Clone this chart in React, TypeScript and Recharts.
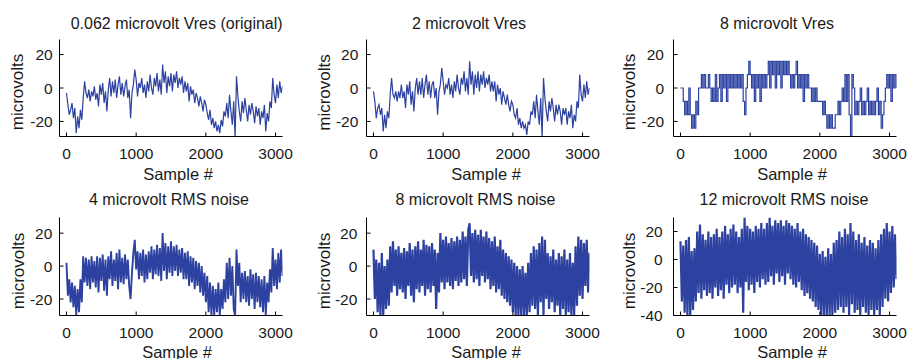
import React from 'react';
import { LineChart, Line, XAxis, YAxis } from 'recharts';

// sample index of every plotted point (every 20th sample)
const sampleIndex: number[] = Array.from({ length: 156 }, (_, i) => i * 20);
const xTicks = [0, 1000, 2000, 3000];
const yTicksStd = [-20, 0, 20];
const yTicksWide = [-40, -20, 0, 20];

const titles = [
  '0.062 microvolt Vres (original)',
  '2 microvolt Vres',
  '8 microvolt Vres',
  '4 microvolt RMS noise',
  '8 microvolt RMS noise',
  '12 microvolt RMS noise',
];

const vOriginal = [
  -3, -10, -16, -13, -9, -18, -12, -27, -17, -24,
  -13, -19, -6, 4, -3, -6, -1, -8, -2, -5,
  1, -7, -3, -11, 2, -4, 3, -9, -2, -14,
  -1, 6, -5, 4, -3, 5, -6, 2, 7, -4,
  3, -5, 1, 5, -6, -1, -18, -3, 2, 11,
  5, -5, 3, 0, 6, -3, 2, -6, 4, -2,
  8, 0, -4, 6, 1, 9, -2, 5, -4, 14,
  3, 10, -3, 7, 1, 9, -2, 8, 3, 10,
  0, 6, 2, 7, -3, 4, -2, 3, -8, 1,
  -4, -1, -9, -3, -6, -11, -5, -9, -14, -7,
  -10, -15, -19, -13, -22, -18, -24, -20, -26, -22,
  -27, -19, -23, -14, -17, -9, -18, -4, -14, -22,
  -8, -30, 7, -5, -14, -20, -8, -15, -6, -13,
  -20, -10, -16, -9, -14, -21, -11, -17, -12, -22,
  -14, -18, -10, -26, -15, -20, -8, -12, 6, -4,
  -9, 2, -6, 4, -3, 1,
];

const v2uV = [
  -2, -8, -18, -12, -10, -16, -12, -26, -16, -24,
  -14, -18, -4, 6, -4, -6, -2, -8, -2, -6,
  2, -6, -2, -12, 2, -4, 4, -10, -2, -14,
  0, 6, -4, 4, -4, 6, -6, 2, 8, -4,
  4, -6, 2, 4, -6, 0, -16, -2, 2, 12,
  4, -4, 2, 0, 6, -4, 2, -6, 4, -2,
  8, 0, -4, 6, 2, 10, -2, 6, -4, 16,
  2, 10, -4, 8, 0, 10, -2, 8, 2, 10,
  0, 6, 2, 8, -2, 4, -2, 4, -8, 2,
  -4, 0, -10, -2, -6, -10, -4, -10, -14, -8,
  -10, -16, -18, -12, -22, -18, -24, -20, -24, -22,
  -28, -20, -22, -14, -16, -8, -18, -4, -14, -22,
  -6, -30, 6, -6, -14, -20, -8, -14, -6, -12,
  -20, -10, -16, -10, -14, -22, -12, -16, -12, -22,
  -14, -18, -10, -24, -16, -20, -8, -12, 8, -4,
  -8, 2, -6, 4, -4, 0,
];

const v8uV = [
  0, 0, -8, -16, -8, -16, 0, -16, -24, -16,
  -24, -8, -16, 0, 0, 8, 0, 8, 0, 0,
  8, 0, -8, 0, -8, 8, -8, 0, 8, -8,
  8, 0, 8, -8, 8, 0, 8, 0, 8, 0,
  8, 0, 8, 0, 8, -8, -16, 0, 8, 16,
  8, 0, 8, -8, 8, 0, 8, -8, 8, 0,
  8, 0, 8, 16, 0, 16, 8, 16, 0, 16,
  8, 16, 0, 16, 8, 16, 8, 16, 8, 0,
  8, 0, 8, 16, 0, 8, 0, 8, -8, 8,
  0, 8, 0, 0, -8, 0, -8, 0, -8, -8,
  -8, -8, -16, -8, -16, -24, -16, -24, -16, -24,
  -24, -16, -16, -8, -16, -8, 0, -8, 8, -8,
  8, -16, -32, 8, 0, -16, -8, -16, -8, 0,
  -16, -8, -16, -8, 0, -16, -8, -16, -8, -16,
  -8, 0, -16, -8, -24, -16, -8, 0, 8, 0,
  8, -8, 8, 0, 8, 0,
];

const vNoise4 = [
  2, -18, -8, -22, -10, -25, -12, -30, -14, -28,
  -8, -22, 6, -10, 5, -12, 4, -14, 6, -10,
  3, -13, 6, -16, 5, -9, 7, -15, 4, -18,
  6, -8, 9, -12, 4, -9, 8, -14, 10, -10,
  5, -11, 7, -8, 4, -12, -20, -4, 8, 16,
  -2, 9, -8, 8, -6, 10, -10, 7, -8, 9,
  -4, 12, -8, 10, -5, 13, -6, 11, -9, 20,
  -3, 14, -8, 12, -4, 15, -6, 12, -3, 13,
  -6, 10, -4, 11, -8, 8, -8, 9, -12, 6,
  -10, 5, -14, 3, -12, 2, -16, 0, -18, -4,
  -22, -6, -28, -10, -30, -12, -30, -14, -28, -10,
  -30, -14, -26, -8, -22, 2, -20, 5, -18, 0,
  -26, -30, 10, -12, 2, -22, -4, -20, -3, -22,
  -6, -24, -2, -20, -5, -26, -4, -22, -6, -25,
  -8, -28, -6, -30, -10, -22, -2, -16, 11, -12,
  4, -14, 8, -10, 10, -6,
];

const vNoise8 = [
  10, -20, 4, -28, 2, -30, 8, -30, 0, -26,
  4, -24, 12, -16, 15, -12, 10, -18, 12, -14,
  8, -16, 11, -20, 9, -12, 14, -18, 10, -22,
  12, -14, 15, -16, 10, -12, 16, -18, 13, -14,
  12, -16, 14, -12, 10, -26, 8, -16, 20, -10,
  16, -14, 18, -10, 14, -12, 17, -14, 15, -9,
  18, -12, 16, -10, 21, -8, 18, -12, 22, 26,
  -6, 20, -10, 22, -8, 19, -12, 22, -6, 18,
  -10, 21, -8, 17, -14, 15, -12, 18, -16, 12,
  -14, 16, -18, 10, -20, 8, -22, 6, -24, 4,
  -28, 2, -30, 0, -30, -2, -30, 0, -30, -4,
  -30, 2, -28, 8, -24, 12, -26, 10, -30, 14,
  -22, 18, -30, 16, -20, 8, -26, 6, -22, 10,
  -28, 4, -24, 8, -30, 6, -26, 10, -30, 4,
  -28, 8, -30, 2, -30, 12, -24, 18, -18, 16,
  -20, 14, -12, 16, -16, 8,
];

const vNoise12 = [
  13, -30, 10, -38, 14, -40, 16, -40, 6, -36,
  8, -30, 20, -24, 25, -28, 18, -22, 14, -26,
  20, -24, 16, -28, 18, -20, 22, -26, 16, -22,
  20, -28, 24, -18, 18, -24, 22, -20, 25, -18,
  20, -24, 16, -20, 22, -38, 30, -16, 24, -22,
  22, -18, 20, -24, 24, -16, 22, -20, 26, -14,
  22, -18, 26, -16, 30, -12, 24, -18, 28, -10,
  26, -16, 28, -12, 24, -18, 28, -10, 26, -14,
  24, -18, 22, -20, 26, -16, 20, -22, 22, -26,
  18, -24, 16, -28, 14, -30, 12, -34, 10, -36,
  4, -40, 6, -40, 2, -40, 8, -40, 4, -40,
  12, -38, 14, -36, 20, -34, 16, -38, 22, -34,
  18, -40, 26, -32, 20, -38, 14, -36, 18, -40,
  12, -34, 16, -38, 10, -40, 14, -36, 12, -40,
  8, -36, 14, -40, 18, -34, 22, -28, 26, -30,
  20, -24, 24, -20, 18, -14,
];

const FONT = '"Liberation Sans", Arial, Helvetica, sans-serif';
const BLUE = '#2c41a0';
const TEXT = '#1a1a1a';
const PLOT_W = 223;

type PanelProps = {
  left: number;
  top: number;
  h: number;
  values: number[];
  yDomain: [number, number];
  yTicks: number[];
  yTickMargin: number;
  step?: boolean;
  sw?: number;
};

function Panel({ left, top, h, values, yDomain, yTicks, yTickMargin, step, sw = 1 }: PanelProps) {
  const data = sampleIndex.map((s, i) => ({ s, v: values[i] }));
  const tickStyle = { fill: TEXT, fontSize: 15.5, fontFamily: FONT };
  return (
    <div style={{ position: 'absolute', left, top }}>
      <LineChart
        width={PLOT_W + 45.5 + 10}
        height={h + 30.5 + 45}
        data={data}
        margin={{ top: 30.5, right: 10, bottom: 0, left: 0 }}
      >
        <XAxis
          xAxisId="b"
          dataKey="s"
          type="number"
          domain={[-100, 3100]}
          ticks={xTicks}
          interval={0}
          allowDataOverflow
          orientation="bottom"
          height={45}
          tickSize={-4}
          tickMargin={15}
          stroke="#000"
          tick={tickStyle}
        />
        <XAxis
          xAxisId="t"
          dataKey="s"
          type="number"
          domain={[-100, 3100]}
          ticks={xTicks}
          interval={0}
          allowDataOverflow
          orientation="top"
          height={0}
          tickSize={-4}
          tickFormatter={() => ''}
          stroke="#000"
        />
        <YAxis
          yAxisId="l"
          type="number"
          domain={yDomain}
          ticks={yTicks}
          interval={0}
          allowDataOverflow
          width={45.5}
          tickSize={-4}
          tickMargin={yTickMargin}
          stroke="#000"
          tick={tickStyle}
        />
        <YAxis
          yAxisId="r"
          orientation="right"
          type="number"
          domain={yDomain}
          ticks={yTicks}
          interval={0}
          allowDataOverflow
          width={0}
          tickSize={-4}
          tickFormatter={() => ''}
          stroke="#000"
        />
        <Line
          xAxisId="b"
          yAxisId="l"
          dataKey="v"
          type={step ? 'stepAfter' : 'linear'}
          stroke={BLUE}
          strokeWidth={sw}
          strokeLinejoin="miter"
          dot={false}
          isAnimationActive={false}
        />
      </LineChart>
    </div>
  );
}

const titlePos = [
  { x: 176.7, y: 29 },
  { x: 469, y: 29 },
  { x: 777, y: 29 },
  { x: 169, y: 204.5 },
  { x: 475.5, y: 204.5 },
  { x: 784, y: 204.5 },
];
const xLabelPos = [
  { x: 178, y: 180 },
  { x: 486, y: 180 },
  { x: 792, y: 180 },
  { x: 177, y: 357.5 },
  { x: 486, y: 357.5 },
  { x: 792, y: 357.5 },
];
const yLabelPos = [
  { x: 23.3, y: 92 },
  { x: 330, y: 92.5 },
  { x: 635, y: 92 },
  { x: 24, y: 271 },
  { x: 330, y: 271 },
  { x: 635, y: 271 },
];

export default function App() {
  return (
    <div
      style={{
        position: 'fixed',
        left: 0,
        top: 0,
        width: 914,
        height: 359,
        background: '#fff',
        overflow: 'hidden',
        fontFamily: FONT,
      }}
    >
      <Panel left={14} top={9} h={97} values={vOriginal} yDomain={[-29, 29]} yTicks={yTicksStd} yTickMargin={10.8} sw={1.2} />
      <Panel left={321} top={9} h={97} values={v2uV} yDomain={[-29, 29]} yTicks={yTicksStd} yTickMargin={12.2} sw={1.2} />
      <Panel left={628} top={9} h={97} values={v8uV} yDomain={[-29, 29]} yTicks={yTicksStd} yTickMargin={13.5} step sw={1.2} />
      <Panel left={14} top={187} h={98} values={vNoise4} yDomain={[-30, 29.5]} yTicks={yTicksStd} yTickMargin={11.2} sw={1.9} />
      <Panel left={321} top={187} h={98} values={vNoise8} yDomain={[-30, 29.5]} yTicks={yTicksStd} yTickMargin={13.2} sw={2.2} />
      <Panel left={628} top={187} h={98} values={vNoise12} yDomain={[-40, 30]} yTicks={yTicksWide} yTickMargin={14.8} sw={2.2} />
      <svg
        width={914}
        height={359}
        style={{ position: 'absolute', left: 0, top: 0, pointerEvents: 'none' }}
      >
        {titles.map((t, i) => (
          <text key={'t' + i} x={titlePos[i].x} y={titlePos[i].y} textAnchor="middle" fontSize={16} fontFamily={FONT} fill={TEXT}>
            {t}
          </text>
        ))}
        {xLabelPos.map((p, i) => (
          <text key={'x' + i} x={p.x} y={p.y} textAnchor="middle" fontSize={16.5} fontFamily={FONT} fill={TEXT}>
            Sample #
          </text>
        ))}
        {yLabelPos.map((p, i) => (
          <text
            key={'y' + i}
            transform={`translate(${p.x},${p.y}) rotate(-90)`}
            textAnchor="middle"
            fontSize={17}
            fontFamily={FONT}
            fill={TEXT}
          >
            microvolts
          </text>
        ))}
      </svg>
    </div>
  );
}
